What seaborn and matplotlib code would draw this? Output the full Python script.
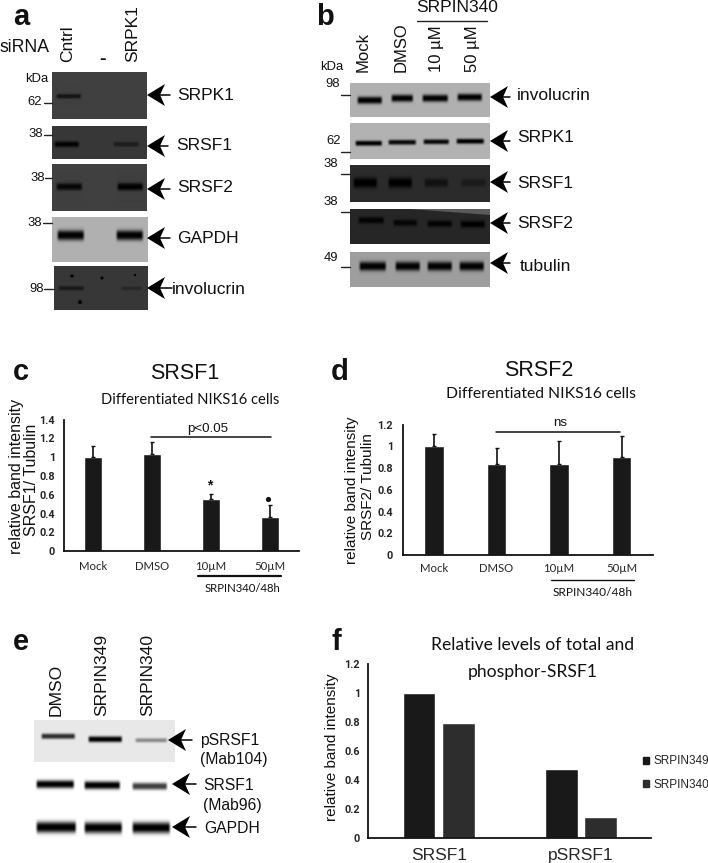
import numpy as np
import pandas as pd
import seaborn as sns
import matplotlib
matplotlib.use('Agg')
import matplotlib.pyplot as plt
from matplotlib.patches import Patch, Polygon

# bar chart values
lanes_cd = ['Mock', 'DMSO', '10µM', '50µM']
srsf1_vals = [1.0, 1.04, 0.56, 0.37]
srsf1_err = [0.125, 0.125, 0.05, 0.12]
srsf2_vals = [1.0, 0.84, 0.84, 0.905]
srsf2_err = [0.115, 0.15, 0.21, 0.19]
f_groups = ['SRSF1', 'pSRSF1']
f_349 = [1.0, 0.476]
f_340 = [0.79, 0.149]
c_ticks = [0, 0.2, 0.4, 0.6, 0.8, 1, 1.2, 1.4]
d_ticks = [0, 0.2, 0.4, 0.6, 0.8, 1, 1.2]

# blot band strengths, one per lane
a_srpk1 = [0.7, 0, 0]
a_srsf1 = [0.95, 0, 0.5]
a_srsf2 = [0.9, 0, 1.0]
a_gapdh = [1.0, 0, 1.0]
a_invol = [0.55, 0, 0.3]
b_invol = [1.0, 1.0, 1.0, 1.0]
b_srpk1 = [1.0, 0.95, 0.95, 1.0]
b_srsf1 = [1.0, 1.0, 0.6, 0.4]
b_srsf2 = [0.9, 0.85, 0.9, 1.0]
b_tub = [1.0, 1.0, 1.0, 1.0]
e_psrsf1 = [0.8, 1.0, 0.4]
e_srsf1 = [1.0, 1.0, 0.75]
e_gapdh = [1.0, 1.0, 1.0]

sns.set_style('white')
plt.rcParams['font.family'] = ['Liberation Sans', 'DejaVu Sans']
NARROW = ['Lato', 'Liberation Sans']
W, H = 708, 863
BAR = '#191919'

fig = plt.figure(figsize=(W / 100, H / 100), dpi=100)

# overlay in pixel coordinates for the blots and the labels round them
ov = fig.add_axes([0, 0, 1, 1])
ov.set_xlim(0, W)
ov.set_ylim(H, 0)
ov.set_autoscale_on(False)
ov.axis('off')


def px_axes(left, right, top, bottom):
    return fig.add_axes([left / W, 1 - bottom / H, (right - left) / W, (bottom - top) / H])


def blot(x0, x1, y0, y1, bg, ys, spans, strengths, sig=2.6):
    xs = np.arange(x0, x1, 0.5)
    yy = np.arange(y0, y1, 0.5)
    X, Y = np.meshgrid(xs, yy)
    img = np.full(X.shape, bg, dtype=float)
    for by, (a, b), s in zip(ys, spans, strengths):
        if s == 0:
            continue
        px = np.clip((X - a) / 3.0, 0, 1) * np.clip((b - X) / 3.0, 0, 1)
        py = np.exp(-np.abs((Y - by) / (sig * (0.55 + 0.45 * s))) ** 2.6)
        img = img * (1 - s * px * py)
    ov.imshow(img, cmap='gray', vmin=0, vmax=1, extent=(x0, x1, y1, y0),
              aspect='auto', interpolation='bilinear', zorder=1)


def arrow(tip_x, y, tail_x):
    ov.add_patch(Polygon([(tip_x, y), (tip_x + 18, y - 11), (tip_x + 13, y), (tip_x + 18, y + 11)],
                         closed=True, color='black', lw=0, zorder=4))
    ov.plot([tip_x + 8, tail_x], [y, y], color='black', lw=1.1, zorder=4)


def label(x, y, s, size=12.5, ha='left', rot=0, va='center', **kw):
    ov.text(x, y, s, fontsize=size, ha=ha, va=va, rotation=rot, color='#111111', **kw)


def marker(right, y, s, tick_y=None, tick_x0=0, tick_x1=0):
    label(right, y, s, size=9.4, ha='right')
    if tick_y is not None:
        ov.plot([tick_x0, tick_x1], [tick_y, tick_y], color='#222222', lw=1, zorder=3)


# panel letters
for x, y, s in [(13, 25, 'a'), (316, 25, 'b'), (13, 380, 'c'), (331, 380, 'd'), (13, 650, 'e'), (331, 650, 'f')]:
    label(x, y, s, size=21, weight='bold', va='baseline')

# panel a
label(49, 48, 'siRNA', size=12.7, ha='right')
label(68, 62, 'Cntrl', rot=90, ha='center', va='bottom')
label(102, 59, '-', size=14, ha='center', weight='bold')
label(133, 62, 'SRPK1', rot=90, ha='center', va='bottom')
blot(52, 147, 72, 119, 0.25, [96] * 3, [(55, 82), (84, 112), (112, 140)], a_srpk1)
blot(52, 147, 126, 159, 0.22, [144] * 3, [(53, 80), (84, 110), (112, 140)], a_srsf1, sig=3.0)
blot(52, 147, 165, 211, 0.25, [187] * 3, [(55, 83), (86, 114), (116, 144)], a_srsf2, sig=3.6)
blot(52, 148, 217, 262, 0.69, [235] * 3, [(56, 85), (88, 112), (115, 144)], a_gapdh, sig=5.0)
blot(54, 148, 266, 310, 0.22, [288] * 3, [(57, 85), (88, 118), (120, 143)], a_invol, sig=2.8)
ov.scatter([72, 102, 135, 80], [276, 278, 275, 302], s=[6, 5, 3, 9], color='black', lw=0, zorder=3)
for y, tail, s, lx, ly in [(95, 170, 'SRPK1', 177, 95), (146, 168, 'SRSF1', 176, 146), (189, 170, 'SRSF2', 177, 188),
                           (238, 170, 'GAPDH', 177, 238), (288, 172, 'involucrin', 172, 289)]:
    arrow(147, y, tail)
    label(lx, ly, s)
marker(48, 79, 'kDa')
marker(42, 102, '62', 103, 44, 52)
marker(43, 134, '38', 135, 44, 52)
marker(45, 178, '38', 178, 45, 52)
marker(42, 223, '38', 223, 43, 52)
marker(44, 289, '98', 289, 44, 53)

# panel b
for x, s in [(363, 'Mock'), (401, 'DMSO'), (437, '10 µM'), (473, '50 µM')]:
    label(x, 72, s, size=12, rot=90, ha='center', va='bottom')
label(457, 7, 'SRPIN340', ha='center')
ov.plot([417, 487], [21.5, 21.5], color='#222222', lw=1)
blot(350, 490, 83, 117, 0.69, [100, 98, 98, 97], [(356, 383), (390, 414), (421, 449), (456, 483)], b_invol, sig=3.6)
blot(350, 490, 123, 159, 0.70, [143, 142, 141.5, 141], [(354, 383), (387, 417), (422, 450), (455, 485)], b_srpk1, sig=2.6)
blot(350, 490, 166, 202, 0.17, [183] * 4, [(352, 378), (387, 413), (423, 449), (460, 487)], b_srsf1, sig=5.0)
blot(350, 490, 209, 244, 0.15, [220, 222.5, 223.5, 224], [(357, 385), (392, 418), (426, 453), (459, 486)], b_srsf2, sig=3.4)
ov.add_patch(Polygon([(410, 209), (490, 209), (490, 215)], closed=True, color='#5a5a5a', lw=0, zorder=2))
blot(350, 490, 252, 287, 0.62, [266] * 4, [(358, 387), (394, 421), (426, 453), (458, 485)], b_tub, sig=4.6)
for y, s, lx, ly in [(97, 'involucrin', 517, 96), (141, 'SRPK1', 517, 138), (182, 'SRSF1', 517, 184),
                     (223, 'SRSF2', 517, 223), (263, 'tubulin', 520, 266)]:
    arrow(490, y, 510)
    label(lx, ly, s)
marker(343, 67, 'kDa')
marker(340, 84, '98', 95, 341, 350)
marker(341, 141, '62', 152, 341, 350)
marker(338, 164, '38', 174, 341, 350)
marker(338, 202, '38', 212, 341, 350)
marker(338, 258, '49', 267, 341, 350)

# panel c
df_c = pd.DataFrame({'lane': lanes_cd, 'val': srsf1_vals})
ax_c = px_axes(64, 299, 419.7, 551.3)
sns.barplot(data=df_c, x='lane', y='val', color=BAR, saturation=1, width=0.31, ax=ax_c, errorbar=None)
ax_c.errorbar(range(4), srsf1_vals, yerr=[[0] * 4, srsf1_err], fmt='none', ecolor='#111111',
              elinewidth=1.2, capsize=1.6, capthick=1)
ax_c.set_ylim(0, 1.4)
ax_c.set_yticks(c_ticks)
ax_c.set_yticklabels([str(t) for t in c_ticks], family='Roboto', weight='bold', fontsize=7.8)

# panel d
df_d = pd.DataFrame({'lane': lanes_cd, 'val': srsf2_vals})
ax_d = px_axes(402.7, 653, 424.8, 555)
sns.barplot(data=df_d, x='lane', y='val', color=BAR, saturation=1, width=0.31, ax=ax_d, errorbar=None)
ax_d.errorbar(range(4), srsf2_vals, yerr=[[0] * 4, srsf2_err], fmt='none', ecolor='#111111',
              elinewidth=1.2, capsize=1.6, capthick=1)
ax_d.set_ylim(0, 1.2)
ax_d.set_yticks(d_ticks)
ax_d.set_yticklabels([str(t) for t in d_ticks], family='Roboto', weight='bold', fontsize=7.8)

for ax, pad, ypad in [(ax_c, 7, 6.5), (ax_d, 6, 7)]:
    ax.set_xlim(-0.5, 3.5)
    ax.set_xlabel('')
    ax.set_ylabel('')
    ax.set_xticks(range(4))
    ax.set_xticklabels(lanes_cd, family=NARROW, fontsize=8.2)
    ax.tick_params(axis='x', length=0, pad=pad)
    ax.tick_params(axis='y', length=0, pad=ypad)
    ax.patch.set_alpha(0)
    sns.despine(ax=ax)
    for sp in ['left', 'bottom']:
        ax.spines[sp].set_linewidth(1.3)
        ax.spines[sp].set_color('#111111')

label(185, 373, 'SRSF1', size=15.5, ha='center')
label(190, 400, 'Differentiated NIKS16 cells', size=10.6, ha='center', family=NARROW)
label(17, 476, 'relative band intensity', size=11.5, ha='center', rot=90)
label(31, 480, 'SRSF1/ Tubulin', size=11.5, ha='center', rot=90)
label(208, 429, 'p<0.05', size=9.6, ha='center')
ov.plot([151, 271], [437, 437], color='#111111', lw=1.1)
label(210, 485, '*', size=10, ha='center', weight='bold')
ov.scatter([268], [499], s=14, color='#111111', lw=0, zorder=3)
ov.plot([198, 281], [575.7, 575.7], color='#111111', lw=1.6)
label(242, 588, 'SRPIN340/48h', size=8.2, ha='center', family=NARROW)

label(539, 370, 'SRSF2', size=15.5, ha='center')
label(541, 394, 'Differentiated NIKS16 cells', size=11.3, ha='center', family=NARROW)
label(352, 490, 'relative band intensity', size=11, ha='center', rot=90)
label(368, 487, 'SRSF2/ Tubulin', size=11, ha='center', rot=90)
label(560, 423, 'ns', size=9.6, ha='center')
ov.plot([496, 620], [432, 432], color='#111111', lw=1.1)
ov.plot([551, 634], [580, 580], color='#111111', lw=1)
label(593, 592, 'SRPIN340/48h', size=8.6, ha='center', family=NARROW)

# panel e
for x, s in [(56, 'DMSO'), (102, 'SRPIN349'), (148, 'SRPIN340')]:
    label(x, 716, s, size=12.6, rot=90, ha='center', va='bottom')
blot(34, 175, 720, 762, 0.91, [736, 739, 740], [(40, 76), (87, 123), (134, 168)], e_psrsf1, sig=3.0)
blot(34, 172, 774, 795, 1.0, [784, 785, 786], [(35, 75), (83, 121), (131, 168)], e_srsf1, sig=4.0)
blot(34, 174, 814, 840, 1.0, [827, 827.5, 827.5], [(35, 77), (83, 123), (131, 171)], e_gapdh, sig=5.6)
for tip, y in [(168, 740), (172, 784), (172, 827)]:
    arrow(tip, y, tip + 24)
label(200, 740, 'pSRSF1', size=11.3)
label(200, 759, '(Mab104)', size=11.3)
label(203, 785, 'SRSF1', size=11.3)
label(203, 805, '(Mab96)', size=11.3)
label(204, 828, 'GAPDH', size=11.3)

# panel f
df_f = pd.DataFrame({'group': f_groups * 2, 'series': ['SRPIN349'] * 2 + ['SRPIN340'] * 2, 'val': f_349 + f_340})
ax_f = px_axes(367.7, 650.7, 663.5, 838.3)
sns.barplot(data=df_f, x='group', y='val', hue='series', palette=['#191919', '#2d2d2d'], saturation=1,
            width=0.55, gap=0.17, ax=ax_f, errorbar=None)
ax_f.set_xlim(-0.5, 1.49)
ax_f.set_ylim(0, 1.2)
ax_f.set_xlabel('')
ax_f.set_ylabel('')
ax_f.set_yticks(d_ticks)
ax_f.set_yticklabels([str(t) for t in d_ticks], family='Roboto', weight='bold', fontsize=7.8)
ax_f.set_xticks(range(2))
ax_f.set_xticklabels(f_groups, fontsize=12.5)
ax_f.tick_params(axis='x', length=0, pad=7)
ax_f.tick_params(axis='y', length=0, pad=5.5)
ax_f.patch.set_alpha(0)
sns.despine(ax=ax_f)
for sp in ['left', 'bottom']:
    ax_f.spines[sp].set_linewidth(1.3)
    ax_f.spines[sp].set_color('#111111')
ax_f.legend(handles=[Patch(color='#191919', label='SRPIN349'), Patch(color='#2d2d2d', label='SRPIN340')],
            loc='center left', bbox_to_anchor=(643 / W, 1 - 773 / H), bbox_transform=fig.transFigure,
            frameon=False, fontsize=8.5, handlelength=0.55, handleheight=0.55, handletextpad=0.3,
            labelspacing=0.95, borderpad=0, borderaxespad=0)
label(533, 645, 'Relative levels of total and', size=12.6, ha='center', family=NARROW)
label(533, 672, 'phosphor-SRSF1', size=12.6, ha='center', family=NARROW)
label(332, 747, 'relative band intensity', size=11, ha='center', rot=90)

fig.savefig('out.png', dpi=100)
